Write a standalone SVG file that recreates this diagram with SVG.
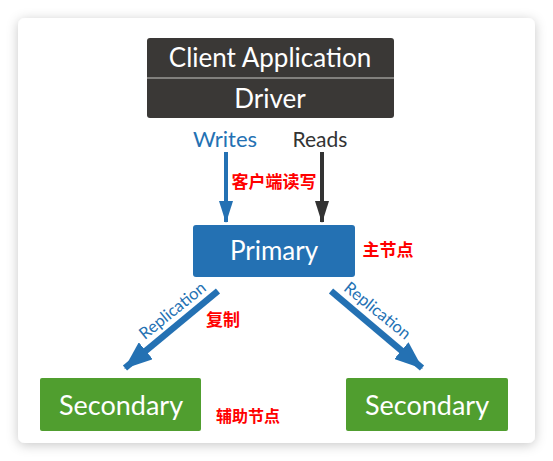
<svg xmlns="http://www.w3.org/2000/svg" width="553" height="461" viewBox="0 0 553 461">
  <defs>
    <filter id="shadow" x="-10%" y="-10%" width="120%" height="120%">
      <feDropShadow dx="0" dy="2" stdDeviation="6" flood-color="#000" flood-opacity="0.22"/>
    </filter>
    <marker id="headBlue" markerUnits="userSpaceOnUse" markerWidth="22" markerHeight="14" refX="21" refY="7" orient="auto" viewBox="0 0 22 14">
      <path d="M0,0 L22,7 L0,14 Z" fill="#2471b3"/>
    </marker>
    <marker id="headDark" markerUnits="userSpaceOnUse" markerWidth="22" markerHeight="14" refX="21" refY="7" orient="auto" viewBox="0 0 22 14">
      <path d="M0,0 L22,7 L0,14 Z" fill="#333"/>
    </marker>
    <marker id="headRep" markerUnits="userSpaceOnUse" markerWidth="28" markerHeight="22" refX="27" refY="11" orient="auto" viewBox="0 0 28 22">
      <path d="M0,0 L28,11 L0,22 Z" fill="#2471b3"/>
    </marker>
  </defs>
  <style>
    .lat { font-family: Lato, "Open Sans", "Liberation Sans", sans-serif; }
    .box-t { fill: #fff; text-anchor: middle; }
    .cn { font-family: "Noto Sans CJK SC", sans-serif; fill: #ff0000; font-weight: bold; text-anchor: middle; }
    .blue { fill: #2471b3; }
    .green { fill: #509e2f; }
  </style>
  <rect width="553" height="461" fill="#ffffff"/>
  <rect x="18" y="18" width="517" height="425" rx="7" fill="#ffffff" filter="url(#shadow)"/>

  <g id="client">
    <rect x="147" y="38" width="247" height="80" rx="3" fill="#3a3836"/>
    <line x1="147" y1="78" x2="394" y2="78" stroke="#9a9896" stroke-width="1.5"/>
    <text class="lat box-t" x="270" y="67" font-size="26">Client Application</text>
    <text class="lat box-t" x="270" y="108" font-size="26">Driver</text>
  </g>

  <g id="primary">
    <rect x="193" y="225" width="162" height="52" rx="3" class="blue"/>
    <text class="lat box-t" x="274" y="260" font-size="26">Primary</text>
  </g>

  <g id="secondary1">
    <rect x="40" y="378" width="161" height="53" rx="2" class="green"/>
    <text class="lat box-t" x="121" y="415" font-size="27">Secondary</text>
  </g>

  <g id="secondary2">
    <rect x="346" y="378" width="162" height="53" rx="2" class="green"/>
    <text class="lat box-t" x="427" y="415" font-size="27">Secondary</text>
  </g>

  <g id="connectors">
    <line x1="226" y1="152" x2="226" y2="222" stroke="#2471b3" stroke-width="4" marker-end="url(#headBlue)"/>
    <line x1="322" y1="152" x2="322" y2="222" stroke="#333" stroke-width="4" marker-end="url(#headDark)"/>
    <line x1="218" y1="291" x2="125" y2="368" stroke="#2471b3" stroke-width="6.5" marker-end="url(#headRep)"/>
    <line x1="331" y1="291" x2="422" y2="368" stroke="#2471b3" stroke-width="6.5" marker-end="url(#headRep)"/>
    <text class="lat" x="225" y="147" font-size="22" fill="#2471b3" text-anchor="middle">Writes</text>
    <text class="lat" x="320" y="147" font-size="21" fill="#333" text-anchor="middle">Reads</text>
    <text class="lat" font-size="16.5" fill="#2471b3" text-anchor="middle" transform="translate(176,315) rotate(-39)">Replication</text>
    <text class="lat" font-size="16.5" fill="#2471b3" text-anchor="middle" transform="translate(374,315) rotate(39)">Replication</text>
  </g>

  <g id="labels">
    <text class="cn" x="274" y="188" font-size="17">客户端读写</text>
    <text class="cn" x="388" y="256" font-size="17">主节点</text>
    <text class="cn" x="223" y="326" font-size="17">复制</text>
    <text class="cn" x="248" y="422" font-size="16">辅助节点</text>
  </g>
</svg>
